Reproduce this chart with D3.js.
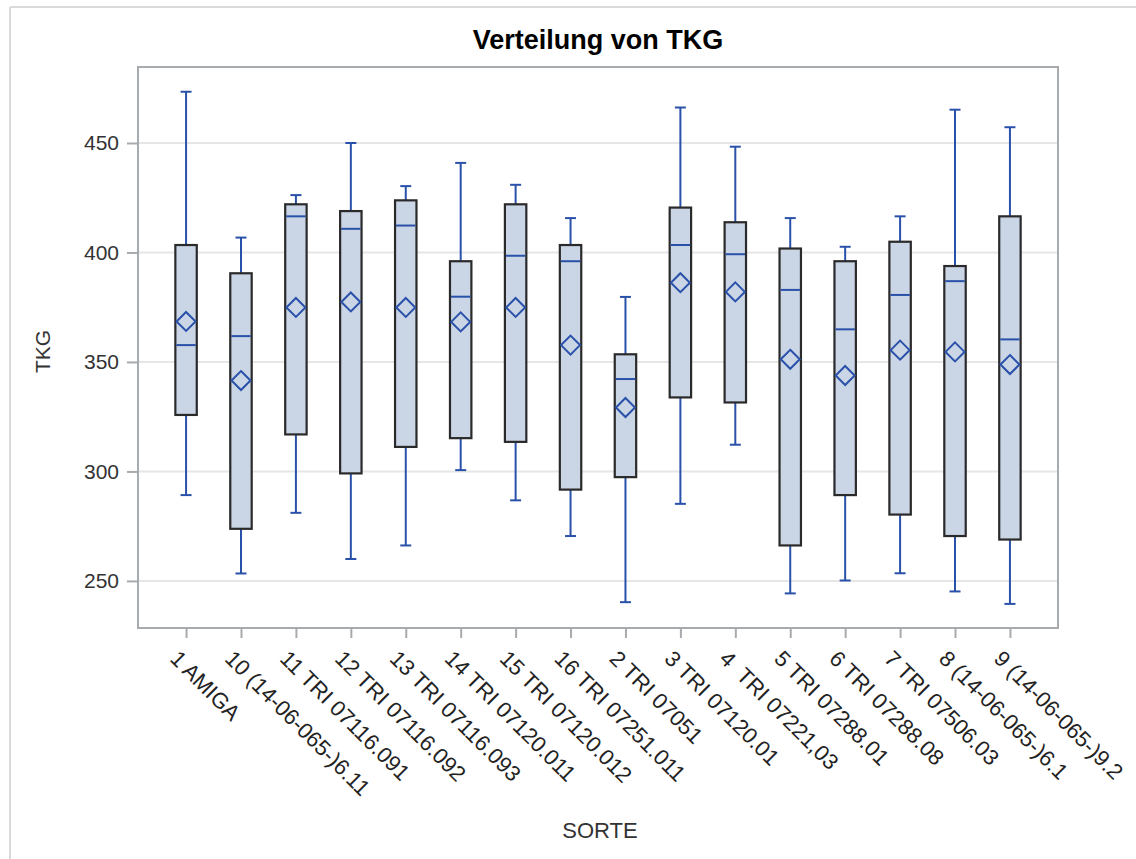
<!DOCTYPE html>
<html>
<head>
<meta charset="utf-8">
<script src="https://cdn.jsdelivr.net/npm/d3@7"></script>
<style>
  html, body { margin: 0; padding: 0; background: #fff; }
  svg { display: block; }
  text { font-family: "Liberation Sans", Arial, sans-serif; }
</style>
</head>
<body>
<svg id="chart" width="1136" height="859"></svg>
<script>
// ---- data ----
const categories = ["1 AMIGA", "10 (14-06-065-)6.11", "11 TRI 07116.091", "12 TRI 07116.092",
  "13 TRI 07116.093", "14 TRI 07120.011", "15 TRI 07120.012", "16 TRI 07251.011",
  "2 TRI 07051", "3 TRI 07120.01", "4  TRI 07221,03", "5 TRI 07288.01",
  "6 TRI 07288.08", "7 TRI 07506.03", "8 (14-06-065-)6.1", "9 (14-06-065-)9.2"];
const whiskerLow  = [289.2, 253.4, 281.1, 260.0, 266.2, 300.6, 286.8, 270.5, 240.3, 285.2, 312.2, 244.3, 250.2, 253.5, 245.2, 239.5];
const q1          = [325.8, 273.8, 316.9, 299.1, 311.2, 315.2, 313.5, 291.7, 297.4, 333.8, 331.5, 266.2, 289.2, 280.3, 270.5, 268.9];
const medians     = [357.7, 361.8, 416.5, 410.8, 412.3, 379.8, 398.5, 396.0, 342.2, 403.4, 399.2, 382.9, 364.9, 380.6, 386.9, 360.3];
const q3          = [403.4, 390.5, 422.0, 418.9, 423.8, 396.0, 422.0, 403.4, 353.5, 420.5, 413.8, 401.8, 396.0, 404.9, 393.8, 416.5];
const whiskerHigh = [473.4, 406.8, 426.2, 450.0, 430.3, 440.9, 430.9, 415.7, 379.7, 466.2, 448.3, 415.7, 402.6, 416.5, 465.2, 457.2];
const means       = [368.5, 341.5, 374.9, 377.4, 374.9, 368.3, 374.9, 357.7, 329.2, 386.2, 382.0, 351.2, 343.8, 355.4, 354.6, 348.8];
const yTicks = [250, 300, 350, 400, 450];
const titleText = "Verteilung von TKG";
const xTitle = "SORTE";
const yTitle = "TKG";

// ---- layout ----
const svg = d3.select("#chart");
const plot = { left: 138, right: 1058, top: 67, bottom: 628 };
const blue = "#2A51A9";
const boxFill = "#CAD5E6";
const boxStroke = "#2a2a2a";
const frameColor = "#A8ABAE";
const gridColor = "#E6E6E6";

const x = d3.scalePoint().domain(categories).range([plot.left, plot.right]).padding(0.875);
const y = d3.scaleLinear().domain([228.5, 484.7]).range([plot.bottom, plot.top]);
const step = x.step();
const boxW = step * 0.39;
const capW = 11;

// outer frame
svg.append("line").attr("x1", 10).attr("x2", 10).attr("y1", 7).attr("y2", 859)
  .attr("stroke", "#DADADA").attr("stroke-width", 2);
svg.append("line").attr("x1", 10).attr("x2", 1136).attr("y1", 7).attr("y2", 7)
  .attr("stroke", "#DADADA").attr("stroke-width", 2);

// gridlines
svg.append("g").selectAll("line").data(yTicks).join("line")
  .attr("x1", plot.left).attr("x2", plot.right)
  .attr("y1", d => y(d)).attr("y2", d => y(d))
  .attr("stroke", gridColor).attr("stroke-width", 2);

// y axis
const yAxis = svg.append("g").attr("transform", `translate(${plot.left},0)`)
  .call(d3.axisLeft(y).tickValues(yTicks).tickSize(11).tickPadding(8));
yAxis.select(".domain").remove();
yAxis.selectAll(".tick line").attr("stroke", frameColor).attr("stroke-width", 2);
yAxis.selectAll(".tick text").attr("font-size", 21).attr("fill", "#333")
  .attr("font-family", "'Liberation Sans', Arial, sans-serif");

// x axis
const xAxis = svg.append("g").attr("transform", `translate(0,${plot.bottom})`)
  .call(d3.axisBottom(x).tickSize(10).tickSizeOuter(0));
xAxis.select(".domain").remove();
xAxis.selectAll(".tick line").attr("stroke", frameColor).attr("stroke-width", 2);
xAxis.selectAll(".tick text")
  .attr("font-size", 22).attr("fill", "#222")
  .attr("font-family", "'Liberation Sans', Arial, sans-serif")
  .attr("text-anchor", "start")
  .attr("dy", null)
  .attr("transform", "translate(0,10) rotate(45)")
  .attr("x", 3).attr("y", 28)
  .style("white-space", "pre");

// plot frame
svg.append("rect").attr("x", plot.left).attr("y", plot.top)
  .attr("width", plot.right - plot.left).attr("height", plot.bottom - plot.top)
  .attr("fill", "none").attr("stroke", frameColor).attr("stroke-width", 2);

// boxes
const g = svg.append("g");
categories.forEach((c, i) => {
  const cx = x(c);
  const gg = g.append("g");
  // whiskers
  gg.append("line").attr("x1", cx).attr("x2", cx).attr("y1", y(whiskerHigh[i])).attr("y2", y(q3[i]))
    .attr("stroke", blue).attr("stroke-width", 2);
  gg.append("line").attr("x1", cx).attr("x2", cx).attr("y1", y(q1[i])).attr("y2", y(whiskerLow[i]))
    .attr("stroke", blue).attr("stroke-width", 2);
  // caps
  [whiskerHigh[i], whiskerLow[i]].forEach(v => {
    gg.append("line").attr("x1", cx - capW / 2).attr("x2", cx + capW / 2)
      .attr("y1", y(v)).attr("y2", y(v)).attr("stroke", blue).attr("stroke-width", 2);
  });
  // box
  gg.append("rect").attr("x", cx - boxW / 2).attr("y", y(q3[i]))
    .attr("width", boxW).attr("height", y(q1[i]) - y(q3[i]))
    .attr("fill", boxFill).attr("stroke", boxStroke).attr("stroke-width", 2.2);
  // median
  gg.append("line").attr("x1", cx - boxW / 2 + 1).attr("x2", cx + boxW / 2 - 1)
    .attr("y1", y(medians[i])).attr("y2", y(medians[i]))
    .attr("stroke", blue).attr("stroke-width", 2);
  // mean diamond
  const r = 9.5;
  const my = y(means[i]);
  gg.append("path")
    .attr("d", `M${cx},${my - r}L${cx + r},${my}L${cx},${my + r}L${cx - r},${my}Z`)
    .attr("fill", "none").attr("stroke", blue).attr("stroke-width", 2);
});

// titles
svg.append("text").attr("x", (plot.left + plot.right) / 2).attr("y", 49)
  .attr("text-anchor", "middle").attr("font-size", 27).attr("font-weight", "bold")
  .attr("fill", "#000").text(titleText);
svg.append("text").attr("x", (plot.left + plot.right) / 2 + 2).attr("y", 838)
  .attr("text-anchor", "middle").attr("font-size", 22).attr("fill", "#333").text(xTitle);
svg.append("text").attr("transform", `translate(50,${(plot.top + plot.bottom) / 2 + 4}) rotate(-90)`)
  .attr("text-anchor", "middle").attr("font-size", 21).attr("fill", "#333").text(yTitle);
</script>
</body>
</html>
